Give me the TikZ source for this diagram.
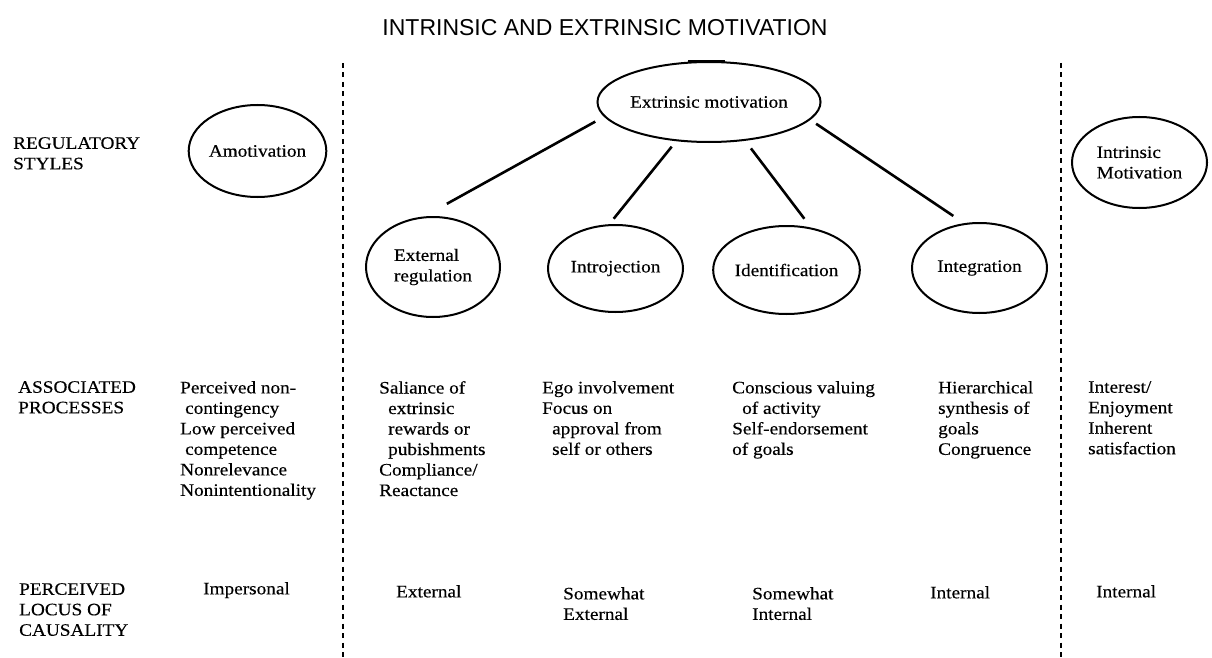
\documentclass[tikz,border=0pt]{standalone}
\usepackage{fontspec}
\setmainfont{Liberation Serif}[FakeStretch=1.1,FakeBold=0.35]
\newfontfamily\titlefont{Liberation Sans}
\usetikzlibrary{shapes.geometric}
\tikzset{
  oval/.style={ellipse, draw, line width=2pt, inner sep=0pt, align=left,
    font=\fontsize{17.5}{20.5}\selectfont},
  conn/.style={line width=2.6pt},
  lbl/.style={anchor=north west, inner sep=0pt, align=left,
    font=\fontsize{17.5}{20.5}\selectfont},
  divider/.style={line width=1.9pt, dash pattern=on 5pt off 4.5pt}
}
\begin{document}
\begin{tikzpicture}[x=1pt,y=-1pt]
\useasboundingbox (0,0) rectangle (1212,658);
% title
\node[font=\titlefont\fontsize{23}{27}\selectfont, inner sep=0pt] (title) at (605,28) {INTRINSIC AND EXTRINSIC MOTIVATION};
% dividers
\coordinate (d1t) at (343,63); \coordinate (d1b) at (343,658);
\coordinate (d2t) at (1061,63); \coordinate (d2b) at (1061,658);
\draw[divider] (d1t) -- (d1b);
\draw[divider] (d2t) -- (d2b);
% ellipses
\node[oval, minimum width=134pt, minimum height=92pt] (am) at (257.5,151) {Amotivation};
\node[oval, minimum width=198pt, minimum height=80pt] (em) at (709,102) {Extrinsic motivation};
\node[oval, minimum width=134pt, minimum height=100pt] (er) at (433,267) {External\\regulation};
\node[oval, minimum width=135pt, minimum height=87pt] (ij) at (615.5,268.5) {Introjection};
\node[oval, minimum width=133pt, minimum height=88pt] (id) at (786.5,270) {Identification};
\node[oval, minimum width=135pt, minimum height=90pt] (ig) at (979.5,268) {Integration};
\node[oval, minimum width=135pt, minimum height=91pt] (im) at (1139.5,162.5) {Intrinsic\\Motivation};
\draw[line width=2.4pt] ([xshift=-21pt,yshift=-0.6pt]em.north) -- ([xshift=16pt,yshift=-0.6pt]em.north);
% connectors
\draw[conn, shorten <=10pt, shorten >=26pt] (em.188) -- (er.100);
\draw[conn, shorten <=7pt, shorten >=7pt] (em.230) -- (ij.98);
\draw[conn, shorten <=9.5pt, shorten >=11pt] (em.313.5) -- (id.60);
\draw[conn, shorten <=7pt, shorten >=13pt] (em.350) -- (ig.109);
% row headings
\node[lbl] (h1) at (13,137) {REGULATORY\\STYLES};
\node[lbl] (h2) at (18,381) {ASSOCIATED\\PROCESSES};
\node[lbl] (h3) at (19,583) {PERCEIVED\\LOCUS OF\\CAUSALITY};
% processes
\node[lbl] (p1) at (180,381) {Perceived non-\\\hspace*{5pt}contingency\\Low perceived\\\hspace*{5pt}competence\\Nonrelevance\\Nonintentionality};
\node[lbl] (p2) at (379,381) {Saliance of\\\hspace*{9pt}extrinsic\\\hspace*{9pt}rewards or\\\hspace*{9pt}pubishments\\Compliance/\\Reactance};
\node[lbl] (p3) at (542,381) {Ego involvement\\Focus on\\\hspace*{10pt}approval from\\\hspace*{10pt}self or others};
\node[lbl] (p4) at (732,381) {Conscious valuing\\\hspace*{10pt}of activity\\Self-endorsement\\of goals};
\node[lbl] (p5) at (938,381) {Hierarchical\\synthesis of\\goals\\Congruence};
\node[lbl] (p6) at (1088,381) {Interest/\\Enjoyment\\Inherent\\satisfaction};
% locus
\node[lbl] (l1) at (203,582) {Impersonal};
\node[lbl] (l2) at (396,585) {External};
\node[lbl] (l3) at (563,587) {Somewhat\\External};
\node[lbl] (l4) at (752,587) {Somewhat\\Internal};
\node[lbl] (l5) at (930,586) {Internal};
\node[lbl] (l6) at (1096,585) {Internal};
\end{tikzpicture}
\end{document}
